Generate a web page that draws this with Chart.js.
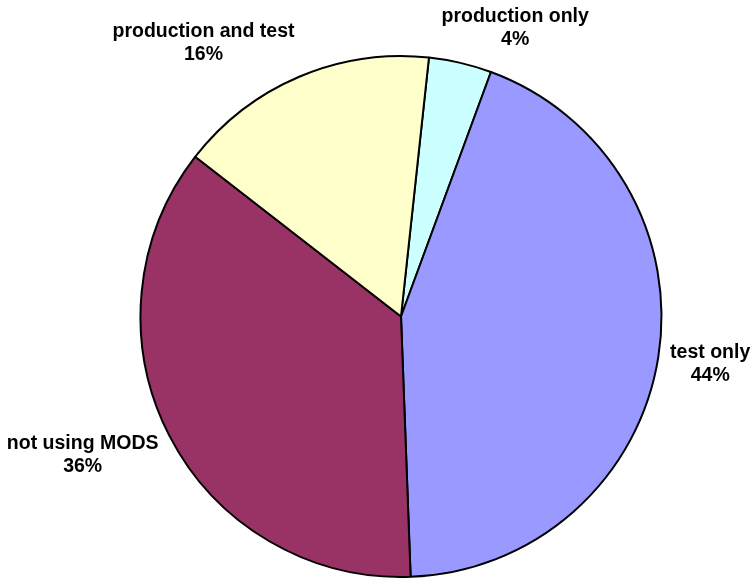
<!DOCTYPE html>
<html>
<head>
<meta charset="utf-8">
<script src="https://cdn.jsdelivr.net/npm/chart.js@4.4.0/dist/chart.umd.min.js"></script>
<style>
  html, body { margin: 0; padding: 0; background: #fff; }
  canvas { display: block; }
</style>
</head>
<body>
<canvas id="modsChart" width="755" height="579"></canvas>
<script>
// share of respondents (in %)
const categories = ["production only", "test only", "not using MODS", "production and test"]
const shares = [3.9, 43.8, 36.1, 16.2]
const sliceColors = ["#CCFFFF", "#9999FF", "#993366", "#FFFFCC"]

const labelFont = "bold 19.5px 'Liberation Sans', Arial, sans-serif"
const lineHeight = 23

// Excel-style outside labels: name on the first line, percent below
const outsideLabels = {
  id: "outsideLabels",
  afterDatasetsDraw(chart) {
    const ctx = chart.ctx
    const meta = chart.getDatasetMeta(0)
    const data = chart.data.datasets[0].data
    const total = data.reduce((a, b) => a + b, 0)

    ctx.save()
    ctx.font = labelFont
    ctx.fillStyle = "#000"
    ctx.textAlign = "center"
    ctx.textBaseline = "middle"

    meta.data.forEach((arc, i) => {
      const p = arc.getProps(["x", "y", "startAngle", "endAngle", "outerRadius"], true)
      const mid = (p.startAngle + p.endAngle) / 2
      const dx = Math.cos(mid)
      const dy = Math.sin(mid)
      const lines = [chart.data.labels[i], Math.round(data[i] / total * 100) + "%"]
      const w = Math.max(...lines.map((t) => ctx.measureText(t).width))
      const h = lines.length * lineHeight
      const dist = p.outerRadius + 12
      // push the text box away from the pie so it doesn't overlap the edge
      const fx = Math.sign(dx) * Math.min(1, Math.abs(dx) * 3.1)
      const fy = Math.sign(dy) * Math.min(1, Math.abs(dy) * 1.4)
      const cx = p.x + dx * dist + fx * w / 2
      const cy = p.y + dy * dist + fy * h / 2

      lines.forEach((t, k) => {
        ctx.fillText(t, cx, cy + (k - (lines.length - 1) / 2) * lineHeight)
      })
    })
    ctx.restore()
  },
}

const ctx = document.getElementById("modsChart").getContext("2d")
const modsChart = new Chart(ctx, {
  type: "pie",
  data: {
    labels: categories,
    datasets: [
      {
        data: shares,
        backgroundColor: sliceColors,
        borderColor: "#000",
        borderWidth: 2,
      },
    ],
  },
  options: {
    responsive: false,
    animation: false,
    rotation: 6.16,
    radius: 260.5,
    layout: {
      padding: {
        left: 47,
        right: 0,
        top: 54,
        bottom: 0,
      },
    },
    plugins: {
      legend: {
        display: false,
      },
      tooltip: {
        enabled: false,
      },
    },
  },
  plugins: [outsideLabels],
})
</script>
</body>
</html>
